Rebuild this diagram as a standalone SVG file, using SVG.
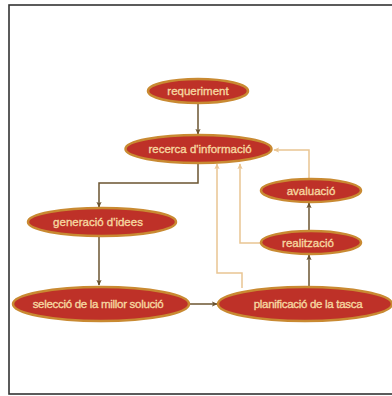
<svg xmlns="http://www.w3.org/2000/svg" width="392" height="396" viewBox="0 0 392 396">
<defs>
<marker id="ad" viewBox="0 0 8 8" refX="7" refY="4" markerWidth="6" markerHeight="6" orient="auto" markerUnits="userSpaceOnUse"><path d="M0,0.5 L8,4 L0,7.5 L2,4 Z" fill="#6b5430"/></marker>
<marker id="al" viewBox="0 0 8 8" refX="7" refY="4" markerWidth="6" markerHeight="6" orient="auto" markerUnits="userSpaceOnUse"><path d="M0,0.5 L8,4 L0,7.5 L2,4 Z" fill="#e9c593"/></marker>
<style>
.n ellipse{fill:#be3128;stroke:#c98a32;stroke-width:2.5}
.n text{fill:#f6d7a0;stroke:#f6d7a0;stroke-width:0.35;font-family:"Liberation Sans",Arial,sans-serif;font-size:11.5px;text-anchor:middle;dominant-baseline:central}
.t{letter-spacing:-0.3px}
.d{fill:none;stroke:#6b5430;stroke-width:1.5;marker-end:url(#ad)}
.l{fill:none;stroke:#e9c593;stroke-width:1.5;marker-end:url(#al)}
</style>
</defs>
<rect x="0" y="0" width="392" height="396" fill="#fff"/>
<rect x="9" y="5" width="400" height="389" fill="none" stroke="#333" stroke-width="1.6"/>
<g id="connectors">
<path class="d" d="M198,103 V134"/>
<path class="d" d="M198,163 V183 H99 V207"/>
<path class="d" d="M99,236 V285"/>
<path class="d" d="M189,304 H217"/>
<path class="d" d="M309,287 V255"/>
<path class="d" d="M309,231 V203"/>
<path class="l" d="M309,179 V150 H274"/>
<path class="l" d="M261,243 H240 V164"/>
<path class="l" d="M242,288 V273 H217 V164"/>
</g>
<g id="requeriment" class="n"><ellipse cx="198" cy="91" rx="50" ry="12"/><text x="198" y="91">requeriment</text></g>
<g id="recerca" class="n"><ellipse cx="198.5" cy="149" rx="73" ry="14"/><text x="200" y="149">recerca d'informació</text></g>
<g id="generacio" class="n"><ellipse cx="102" cy="222" rx="74" ry="14"/><text x="98" y="222">generació d'idees</text></g>
<g id="avaluacio" class="n"><ellipse cx="311" cy="190.5" rx="50" ry="11.5"/><text x="311" y="190.5">avaluació</text></g>
<g id="realitzacio" class="n"><ellipse cx="311" cy="242.5" rx="50" ry="11.5"/><text x="308" y="242.5">realització</text></g>
<g id="seleccio" class="n"><ellipse cx="101" cy="304" rx="88" ry="17"/><text class="t" x="98" y="304">selecció de la millor solució</text></g>
<g id="planificacio" class="n"><ellipse cx="305" cy="304" rx="87" ry="17"/><text class="t" x="308" y="304">planificació de la tasca</text></g>
</svg>
